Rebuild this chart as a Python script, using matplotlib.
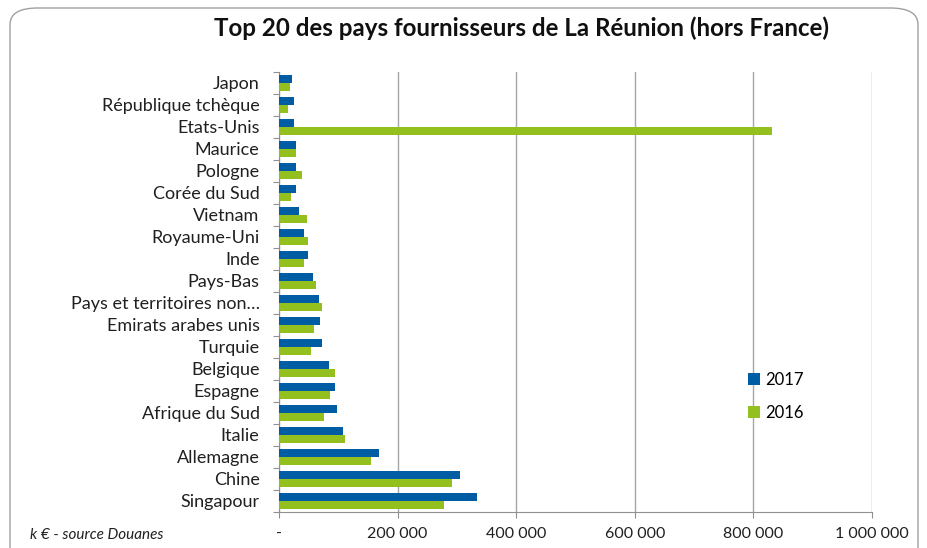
import numpy as np
import matplotlib.pyplot as plt
from matplotlib.patches import FancyBboxPatch
from matplotlib.ticker import FixedLocator

# === DATA (k€) ===
COUNTRIES = [
    'Japon', 'République tchèque', 'Etats-Unis', 'Maurice', 'Pologne',
    'Corée du Sud', 'Vietnam', 'Royaume-Uni', 'Inde', 'Pays-Bas',
    'Pays et territoires non…', 'Emirats arabes unis', 'Turquie', 'Belgique',
    'Espagne', 'Afrique du Sud', 'Italie', 'Allemagne', 'Chine', 'Singapour'
]
VALUES_2017 = [22000, 25000, 25000, 29000, 29000, 29000, 33000, 42000, 49000, 58000,
               67000, 69000, 73000, 85000, 94000, 97000, 108000, 169000, 305000, 334000]
VALUES_2016 = [19000, 15000, 832000, 29000, 38000, 21000, 48000, 49000, 42000, 63000,
               72000, 59000, 54000, 95000, 86000, 76000, 112000, 155000, 292000, 279000]
X_TICKS = [0, 200000, 400000, 600000, 800000, 1000000]
X_TICK_LABELS = ['-', '200 000', '400 000', '600 000', '800 000', '1 000 000']

BLUE = '#005DA4'
GREEN = '#93C01F'
FONT = 'Lato'

plt.rcParams['font.family'] = [FONT, 'DejaVu Sans']

fig = plt.figure(figsize=(9.28, 5.48), dpi=100)
# plot area in pixel terms: x 279..872, y 72..512
ax = fig.add_axes([279 / 928, 1 - 512 / 548, (872 - 279) / 928, (512 - 72) / 548])

# rounded outer frame
frame = FancyBboxPatch((10 / 928, -20 / 548), 908 / 928, 548 / 548 - 8 / 548 + 20 / 548,
                       boxstyle='round,pad=0,rounding_size=0.03', transform=fig.transFigure,
                       facecolor='none', edgecolor='#A0A0A0', linewidth=1.0, clip_on=False)
fig.patches.append(frame)

n = len(COUNTRIES)
y = np.arange(n)
h = 0.37
ax.barh(y - h / 2, VALUES_2017, height=h, color=BLUE, label='2017', zorder=3)
ax.barh(y + h / 2, VALUES_2016, height=h, color=GREEN, label='2016', zorder=3)

ax.set_ylim(n - 0.5, -0.5)
ax.set_xlim(0, 1000000)

ax.set_yticks(y)
ax.set_yticklabels(COUNTRIES, fontsize=13, color='#202020')
ax.yaxis.set_minor_locator(FixedLocator(np.arange(-0.5, n, 1)))
ax.tick_params(axis='y', which='major', length=0, pad=14)
ax.tick_params(axis='y', which='minor', length=4, color='#909090', width=0.8)

ax.set_xticks(X_TICKS)
ax.set_xticklabels(X_TICK_LABELS, fontsize=11.5, color='#202020')
ax.tick_params(axis='x', length=4, color='#909090', width=0.8, pad=7)

ax.grid(axis='x', color='#A6A6A6', linewidth=1.0, zorder=0)
for s in ['top', 'right']:
    ax.spines[s].set_visible(False)
ax.spines['left'].set_color('#909090')
ax.spines['bottom'].set_color('#909090')

fig.text(522 / 928, 1 - 28 / 548, 'Top 20 des pays fournisseurs de La Réunion (hors France)',
         ha='center', va='center', fontsize=17.4, fontweight='bold', color='#101010')
fig.text(30 / 928, 1 - 535 / 548, 'k € - source Douanes', ha='left', va='center',
         fontsize=11, style='italic', color='#202020')

leg = ax.legend(loc='upper left', bbox_to_anchor=((733 - 279) / 593, (512 - 357) / 440),
                frameon=False, fontsize=12, handlelength=0.7, handleheight=0.7,
                labelspacing=1.0, handletextpad=0.35)

plt.savefig('out.png', dpi=100)
plt.close()
